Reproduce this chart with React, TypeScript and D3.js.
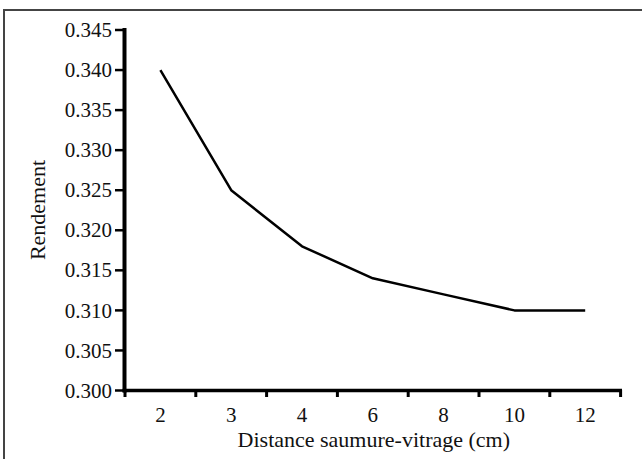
import React from "react";
import * as d3 from "d3";

const categories = ["2", "3", "4", "6", "8", "10", "12"];
const rendement = [0.34, 0.325, 0.318, 0.314, 0.312, 0.31, 0.31];
const yTicks = [0.3, 0.305, 0.31, 0.315, 0.32, 0.325, 0.33, 0.335, 0.34, 0.345];

const W = 642;
const H = 459;
const FONT = "'Liberation Serif', 'Times New Roman', Times, serif";

export default function App() {
  const x = d3.scaleBand<string>().domain(categories).range([125, 620.6]).padding(0);
  const y = d3.scaleLinear().domain([0.3, 0.345]).range([390.5, 30]);
  const bw = x.bandwidth();
  const pts = categories.map((c, i) => [x(c)! + bw / 2, y(rendement[i])] as [number, number]);
  const line = d3.line()(pts) || "";
  const x0 = x.range()[0];
  const x1 = x.range()[1];
  const boundaries = [...categories.map((c) => x(c)!), x1];
  const ts = { fontFamily: FONT };

  return (
    <svg
      width={W}
      height={H}
      style={{ position: "absolute", left: 0, top: 0, background: "#fff" }}
    >
      <rect x={0} y={0} width={W} height={H} fill="#fff" />
      <rect x={4} y={10} width={W + 10} height={H + 10} fill="none" stroke="#444" strokeWidth={2} />

      {/* y axis */}
      <line x1={124.5} x2={124.5} y1={28} y2={392.5} stroke="#000" strokeWidth={4} />
      {yTicks.map((t) => (
        <g key={t}>
          <line x1={115} x2={124} y1={y(t)} y2={y(t)} stroke="#000" strokeWidth={2.5} />
          <text x={112} y={y(t)} dy="0.34em" textAnchor="end" fontSize={21} fill="#111" style={ts}>
            {t.toFixed(3)}
          </text>
        </g>
      ))}

      {/* x axis */}
      <line x1={122.5} x2={622} y1={390.5} y2={390.5} stroke="#000" strokeWidth={3.5} />
      {boundaries.map((b, i) => (
        <line key={i} x1={b} x2={b} y1={390} y2={397} stroke="#000" strokeWidth={3} />
      ))}
      {categories.map((c) => (
        <text key={c} x={x(c)! + bw / 2} y={422} textAnchor="middle" fontSize={21} fill="#111" style={ts}>
          {c}
        </text>
      ))}

      <path d={line} fill="none" stroke="#000" strokeWidth={2.5} strokeLinejoin="round" />

      <text x={(x0 + x1) / 2 + 1} y={447} textAnchor="middle" fontSize={22} fill="#111" style={ts}>
        Distance saumure-vitrage (cm)
      </text>
      <text
        transform={`translate(45,${(30 + 390) / 2}) rotate(-90)`}
        textAnchor="middle"
        fontSize={22}
        fill="#111"
        style={ts}
      >
        Rendement
      </text>
    </svg>
  );
}
